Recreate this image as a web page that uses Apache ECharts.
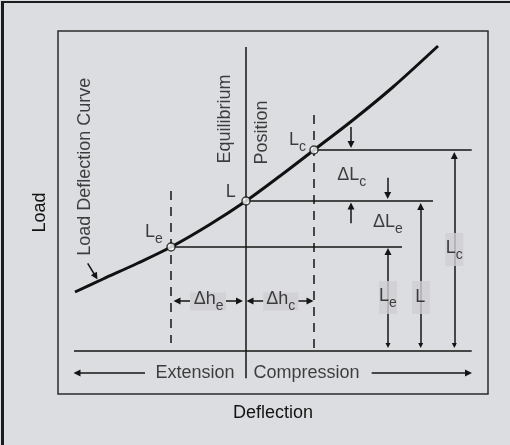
<!DOCTYPE html>
<html><head><meta charset="utf-8">
<script src="https://cdn.jsdelivr.net/npm/echarts@6/dist/echarts.min.js"></script>
<style>
html,body{margin:0;padding:0;width:510px;height:445px;background:#dcdde0;overflow:hidden}
#frame{position:absolute;left:1px;top:1px;width:530px;height:460px;border-left:3px solid #1c1c1c;border-top:2px solid #1c1c1c}
#c{position:absolute;left:0;top:0;width:510px;height:445px}
</style></head><body><div id="frame"></div><div id="c"></div>
<script>
// ---- data (deflection: 0 = equilibrium position; load: 0 = baseline) ----
const curveDeflection = [-171, -143, -109, -75, -37, 0, 34, 68, 107, 147, 192];
const curveLoad       = [59, 72, 87.5, 104, 126, 150, 175, 201, 231, 264, 305];
const keyNames      = ['Le', 'L', 'Lc'];
const keyDeflection = [-75, 0, 68];
const keyLoad       = [104, 150, 201];
const axisNames     = ['Deflection', 'Load'];
const regionNames   = ['Extension', 'Compression'];
const curveName     = 'Load Deflection Curve';
const equilibriumWords = ['Equilibrium', 'Position'];

const INK = '#141414';
const BOX = '#cfd0d3';
const FONT = '"Liberation Sans", Arial, Helvetica, sans-serif';

function sub(a, b) { return b ? '{m|' + a + '}{s|' + b + '}' : '{m|' + a + '}'; }
function lbl(name, prefix) { return sub((prefix || '') + name[0], name.slice(1)); }

const [Le, L, Lc] = [0, 1, 2];
const xE = keyDeflection[Le], xC = keyDeflection[Lc];

// plain lines
const plain = [
  [[0, 304], [0, -27.3]],                       // equilibrium
  [[-172, 0], [225.7, 0]],                      // baseline
  [[keyDeflection[Le], keyLoad[Le]], [156, keyLoad[Le]]],
  [[keyDeflection[L],  keyLoad[L]],  [187, keyLoad[L]]],
  [[keyDeflection[Lc], keyLoad[Lc]], [225.7, keyLoad[Lc]]]
];
const dashed = [
  [[xE, 160], [xE, 8]],
  [[xC, 236], [xC, 1]]
];
const single = [
  [[105, 224], [105, 206.5]],
  [[141.7, 173.3], [141.7, 155.5]],
  [[105, 127.7], [105, 145]],
  [[-56, 50], [-69, 50]],
  [[-20, 50], [-6.5, 50]],
  [[17.3, 50], [4, 50]],
  [[52.3, 50], [64, 50]],
  [[-101, -22], [-169, -22]],
  [[125.7, -22], [222.5, -22]],
  [[-158.3, 87.7], [-150.3, 74.5]]
];
const dbl = [
  [[142, 5.5], [142, keyLoad[Le] - 4.5]],
  [[174.7, 5.5], [174.7, keyLoad[L] - 5.5]],
  [[208.3, 5.5], [208.3, keyLoad[Lc] - 5.5]]
];
const boxes = [
  [-38, 49.5, 36, 18], [34.8, 49.5, 35, 18],
  [142, 53.5, 18, 33], [175, 53.5, 18, 33], [208.3, 101.5, 18, 33]
];
const texts = [
  [lbl(keyNames[Le]), -92, 116.5, 0],
  [lbl(keyNames[L]), -15.3, 159.3, 0],
  [lbl(keyNames[Lc]), 51.5, 208, 0],
  [lbl(keyNames[Lc], 'Δ'), 105.7, 173.7, 0],
  [lbl(keyNames[Le], 'Δ'), 142, 126.5, 0],
  [sub('Δh', 'e'), -37.3, 49.3, 0],
  [sub('Δh', 'c'), 34.7, 49.3, 0],
  [lbl(keyNames[Le]), 142, 52.3, 0],
  [lbl(keyNames[L]), 174.2, 54.3, 0],
  [lbl(keyNames[Lc]), 208.2, 100.7, 0],
  [sub(curveName), -161, 184.3, 90],
  [sub(equilibriumWords[0]), -21, 232, 90],
  [sub(equilibriumWords[1]), 15.7, 218.5, 90],
  [sub(regionNames[0]), -51, -22, 0],
  [sub(regionNames[1]), 60.4, -22, 0]
];

const rich = {
  m: { fontSize: 18, fontFamily: FONT, color: INK, verticalAlign: 'top' },
  s: { fontSize: 14, fontFamily: FONT, color: INK, verticalAlign: 'bottom', padding: [9, 0, 0, 0] }
};

function linesSeries(data, symbol, extra) {
  return Object.assign({
    type: 'lines', coordinateSystem: 'cartesian2d', polyline: false, silent: true,
    symbol: symbol, symbolSize: [6, 8],
    lineStyle: { color: INK, width: 1.5, opacity: 1, curveness: 0 },
    itemStyle: { color: INK },
    data: data.map(c => ({ coords: c })), z: 2, animation: false
  }, extra || {});
}

const chart = echarts.init(document.getElementById('c'), null, { renderer: 'canvas' });
chart.setOption({
  backgroundColor: 'transparent',
  animation: false,
  grid: { left: 58, top: 31, width: 430, height: 363, show: true, borderColor: '#2b2b2b', borderWidth: 1.5, backgroundColor: 'transparent' },
  xAxis: {
    type: 'value', min: -188, max: 242,
    axisLine: { show: false }, axisTick: { show: false }, axisLabel: { show: false }, splitLine: { show: false },
    name: axisNames[0], nameLocation: 'middle', nameGap: 10,
    nameTextStyle: { fontSize: 18, fontFamily: FONT, color: INK, verticalAlign: 'top' }
  },
  yAxis: {
    type: 'value', min: -43, max: 320,
    axisLine: { show: false }, axisTick: { show: false }, axisLabel: { show: false }, splitLine: { show: false },
    name: axisNames[1], nameLocation: 'middle', nameGap: 9, nameRotate: 90,
    nameTextStyle: { fontSize: 18, fontFamily: FONT, color: INK }
  },
  series: [
    { type: 'line', data: curveDeflection.map((x, i) => [x, curveLoad[i]]), smooth: 0.3, showSymbol: false,
      lineStyle: { width: 3, color: '#111' }, z: 5, silent: true },
    linesSeries(plain, ['none', 'none']),
    linesSeries(dashed, ['none', 'none'], { lineStyle: { color: INK, width: 1.5, opacity: 1, type: [9, 7] } }),
    linesSeries(single, ['none', 'triangle'], { symbolSize: [5, 7] }),
    linesSeries(dbl, ['triangle', 'triangle'], { symbolSize: [5, 7] }),
    { type: 'scatter', silent: true, z: 3,
      data: boxes.map(b => ({ value: [b[0], b[1]], symbol: 'rect', symbolSize: [b[2], b[3]] })),
      itemStyle: { color: BOX } },
    { type: 'scatter', silent: true, z: 6, symbol: 'circle', symbolSize: 8,
      data: keyDeflection.map((x, i) => [x, keyLoad[i]]),
      itemStyle: { color: '#fff', borderColor: '#111', borderWidth: 1.5 } },
    { type: 'scatter', silent: true, z: 7, symbolSize: 0,
      data: texts.map(t => ({ value: [t[1], t[2]], txt: t[0],
        label: { show: true, position: 'inside', rotate: t[3], formatter: t[0], rich: rich } })),
      itemStyle: { color: 'transparent' } }
  ]
});
</script></body></html>
